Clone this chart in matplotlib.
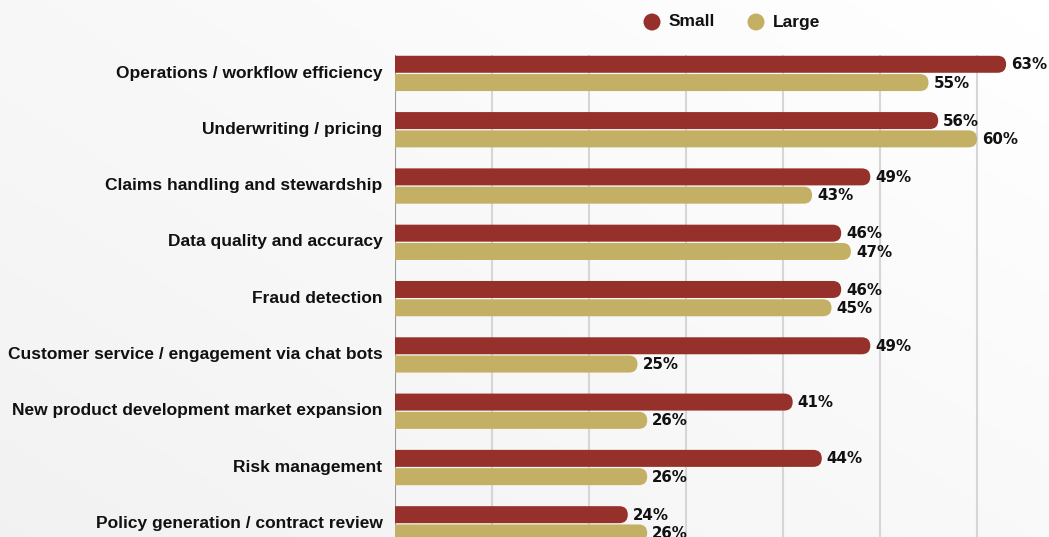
import numpy as np
import matplotlib.pyplot as plt
import matplotlib.transforms as mtrans
from matplotlib.patches import FancyBboxPatch, Ellipse

#chart data
categories = ["Operations / workflow efficiency", "Underwriting / pricing",
              "Claims handling and stewardship", "Data quality and accuracy",
              "Fraud detection", "Customer service / engagement via chat bots",
              "New product development market expansion", "Risk management",
              "Policy generation / contract review"]
small = [63, 56, 49, 46, 46, 49, 41, 44, 24]
large = [55, 60, 43, 47, 45, 25, 26, 26, 26]
series_names = ["Small", "Large"]

red = "#96302a"
gold = "#c4b064"

plt.rcParams['font.family'] = ['Liberation Sans', 'DejaVu Sans']
plt.rcParams['font.weight'] = 'bold'

W, H = 1049, 537
fig = plt.figure(figsize=(W/100, H/100), dpi=100)

#background gradient
bg = fig.add_axes([0, 0, 1, 1])
gx, gy = np.meshgrid(np.linspace(0, 1, 300), np.linspace(0, 1, 200))
grad = np.clip(0.55*gx + 0.45*(1-gy), 0, 1)
bg.imshow(grad, cmap="Greys_r", vmin=-8, vmax=1, aspect="auto", extent=[0, 1, 0, 1])
bg.set_xlim(0, 1)
bg.set_ylim(0, 1)
bg.axis("off")

#main axes, left edge at 0%
left, top = 395, 55
ax = fig.add_axes([left/W, 0, 1 - left/W, 1 - top/H])
ax.patch.set_alpha(0)
xmax = (W - left) / 9.7
row_px = 56.3
ymin = -18/row_px
ymax = (H - 73) / row_px
ax.set_xlim(0, xmax)
ax.set_ylim(ymax, ymin)

px_x = 9.7        # pixels per percent
h = 17/row_px
off = 0.16
r_x = 8.5 / px_x
r_y = h/2

def rbar(v, y, color):
    p = FancyBboxPatch((-r_x*2, y - h/2), v + r_x*2, h,
                       boxstyle="round,pad=0,rounding_size=%f" % r_x,
                       mutation_aspect=r_y/r_x, fc=color, ec="none", zorder=3)
    ax.add_patch(p)
    ax.text(v + 5/px_x, y + 0.01, f"{v}%", va="center", ha="left", fontsize=10.8,
            family="DejaVu Sans", color="#111111", zorder=4)

ys = np.arange(len(categories))
for i, y in enumerate(ys):
    rbar(small[i], y - off + 0.005, red)
    rbar(large[i], y + off + 0.01, gold)

for g in range(10, 70, 10):
    ax.axvline(g, color="#d6d6d6", lw=1.5, zorder=1)
ax.axvline(0, color="#9a9a9a", lw=1.5, zorder=1)

ax.set_yticks(ys)
ax.set_yticklabels(categories, fontsize=12.5, color="#111111")
ax.tick_params(axis="y", length=0, pad=9)
shift = mtrans.ScaledTranslation(0, 1.5/100, fig.dpi_scale_trans)
for lab in ax.get_yticklabels():
    lab.set_transform(lab.get_transform() + shift)
ax.set_xticks([])
for s in ax.spines.values():
    s.set_visible(False)

#legend
lx = [652, 756]
for name, col, x in zip(series_names, [red, gold], lx):
    bg.add_patch(Ellipse((x/W, 1 - 22/H), 17/W, 17/H, fc=col, ec="none"))
    fig.text((x + 17)/W, 1 - 22/H, name, va="center", ha="left", fontsize=12.5,
             color="#111111")

fig.savefig("out.png", dpi=100)
